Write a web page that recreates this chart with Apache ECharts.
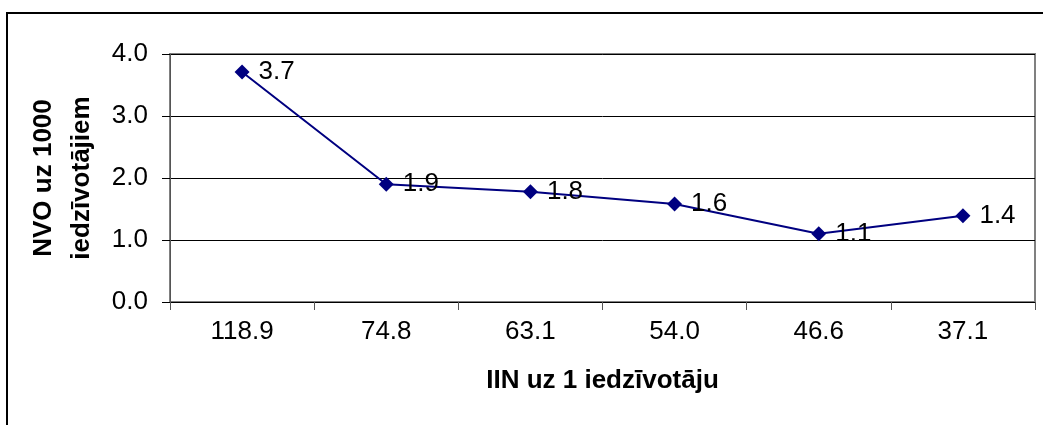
<!DOCTYPE html>
<html>
<head>
<meta charset="utf-8">
<script src="https://cdn.jsdelivr.net/npm/echarts@6/dist/echarts.min.js"></script>
<style>
  html, body { margin: 0; padding: 0; background: #fff; }
  #main { width: 1043px; height: 425px; }
</style>
</head>
<body>
<div id="main"></div>
<script>
// IIN uz 1 iedzīvotāju (kategorijas)
var categories = ['118.9', '74.8', '63.1', '54.0', '46.6', '37.1'];
// NVO uz 1000 iedzīvotājiem
var nvoValues = [3.71, 1.90, 1.78, 1.58, 1.10, 1.39];
var yTicks = [0, 1, 2, 3, 4];

var fontMain = 'Liberation Sans, Arial, sans-serif';

var option = {
    animation: false,
    backgroundColor: '#fff',
    grid: {
        left: 170,
        top: 54,
        right: 8,
        bottom: 123,
        show: true,
        borderColor: '#808080',
        borderWidth: 2
    },
    graphic: [{
        type: 'rect',
        shape: { x: 7, y: 13, width: 1200, height: 600 },
        style: { fill: 'none', stroke: '#000', lineWidth: 2 },
        silent: true
    }],
    xAxis: {
        type: 'category',
        data: categories,
        boundaryGap: true,
        name: 'IIN uz 1 iedzīvotāju',
        nameLocation: 'middle',
        nameGap: 66,
        nameTextStyle: { fontFamily: fontMain, fontWeight: 'bold', fontSize: 26, color: '#000' },
        axisLine: { lineStyle: { color: '#000', width: 1 } },
        axisTick: { show: true, length: 8, lineStyle: { color: '#555' } },
        axisLabel: { fontFamily: fontMain, fontSize: 26, color: '#000', margin: 17 },
        splitLine: { show: false }
    },
    yAxis: {
        type: 'value',
        min: yTicks[0],
        max: yTicks[yTicks.length - 1],
        interval: 1,
        name: 'NVO uz 1000\niedzīvotājiem',
        nameLocation: 'middle',
        nameRotate: 90,
        nameGap: 61,
        nameTextStyle: { fontFamily: fontMain, fontWeight: 'bold', fontSize: 26, color: '#000', lineHeight: 38 },
        axisLine: { show: true, lineStyle: { color: '#555', width: 1 } },
        axisTick: { show: true, length: 8, lineStyle: { color: '#000' } },
        axisLabel: {
            fontFamily: fontMain, fontSize: 26, color: '#000', margin: 22,
            formatter: function (v) { return v.toFixed(1); }
        },
        splitLine: { show: true, lineStyle: { color: '#000', width: 1 } }
    },
    series: [{
        type: 'line',
        data: nvoValues,
        symbol: 'diamond',
        symbolSize: 15,
        lineStyle: { color: '#000080', width: 2 },
        itemStyle: { color: '#000080' },
        label: {
            show: true,
            position: 'right',
            distance: 9,
            fontFamily: fontMain,
            fontSize: 26,
            color: '#000',
            formatter: function (p) { return p.value.toFixed(1); }
        }
    }]
};

var myChart = echarts.init(document.getElementById('main'));
myChart.setOption(option);
</script>
</body>
</html>
